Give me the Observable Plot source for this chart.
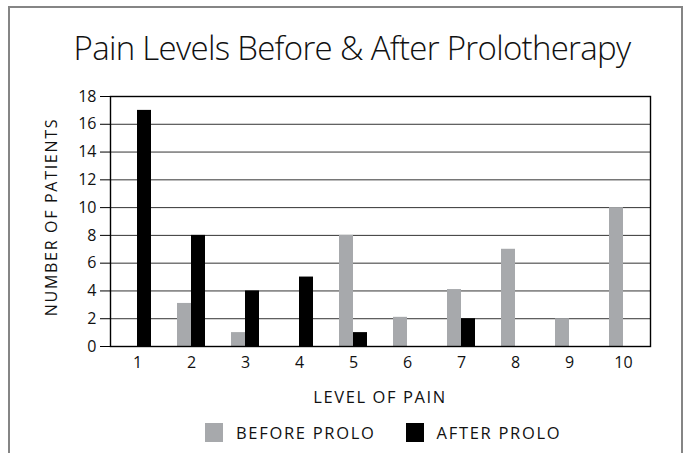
<!DOCTYPE html>
<html>
<head>
<meta charset="utf-8">
<script src="https://cdn.jsdelivr.net/npm/d3@7"></script>
<script src="https://cdn.jsdelivr.net/npm/@observablehq/plot@0.6"></script>
<style>
  body { margin: 0; background: #fff; font-family: "Open Sans", sans-serif; color: #111; }
  #wrap { position: relative; width: 688px; height: 453px; overflow: hidden; background: #fff; }
  #border { position: absolute; left: 8px; top: 6px; width: 671px; height: 470px; border: 2px solid #858585; border-bottom: none; }
  #title { position: absolute; left: 0; width: 704px; top: 25px; text-align: center; font-weight: 300; font-size: 33px; white-space: nowrap; letter-spacing: -0.7px; }
  #chart { position: absolute; left: 0; top: 80px; }
  #ylabel { position: absolute; left: 51px; top: 217px; transform: translate(-50%, -50%) rotate(-90deg); font-size: 16px; letter-spacing: 1.7px; white-space: nowrap; }
  #xlabel { position: absolute; left: 380px; top: 396px; transform: translate(-50%, -50%); font-size: 16.5px; letter-spacing: 1.6px; white-space: nowrap; }
  #legend { position: absolute; left: 205px; top: 421px; display: flex; align-items: center; font-size: 16.5px; letter-spacing: 1.7px; white-space: nowrap; }
  .sw { width: 18px; height: 19px; display: inline-block; margin-right: 13px; }
  .item { display: flex; align-items: center; margin-right: 30px; }
</style>
</head>
<body>
<div id="wrap">
  <div id="border"></div>
  <div id="title">Pain Levels Before &amp; After Prolotherapy</div>
  <div id="chart"></div>
  <div id="ylabel"></div>
  <div id="xlabel"></div>
  <div id="legend"></div>
</div>
<script>
const levels = [1, 2, 3, 4, 5, 6, 7, 8, 9, 10];
const beforeProlo = [0, 3.1, 1, 0, 8, 2.1, 4.1, 7, 2, 10];
const afterProlo = [17, 8, 4, 5, 1, 0, 2, 0, 0, 0];
const seriesNames = ["BEFORE PROLO", "AFTER PROLO"];
const seriesColors = ["#a7a9ac", "#000000"];
const yTicks = [0, 2, 4, 6, 8, 10, 12, 14, 16, 18];
const yLabel = "NUMBER OF PATIENTS";
const xLabel = "LEVEL OF PAIN";

const rows = levels.flatMap((l, i) => [
  {level: l, series: seriesNames[0], value: beforeProlo[i]},
  {level: l, series: seriesNames[1], value: afterProlo[i]}
]);

const chart = Plot.plot({
  width: 688,
  height: 300,
  marginTop: 16,
  marginBottom: 34,
  marginLeft: 109,
  marginRight: 37,
  fx: {domain: levels, paddingInner: 0, paddingOuter: 0, label: null},
  x: {domain: seriesNames, axis: null, paddingInner: 0, paddingOuter: 0.87},
  y: {domain: [0, 18], label: null},
  color: {domain: seriesNames, range: seriesColors},
  style: {fontFamily: "Open Sans, sans-serif", fontSize: "16px", color: "#111", background: "transparent"},
  marks: [
    Plot.ruleY(yTicks.filter(t => t > 0 && t < 18), {stroke: "#333", strokeWidth: 1}),
    Plot.barY(rows, {fx: "level", x: "series", y: "value", fill: "series"}),
    Plot.frame({facet: "super", stroke: "#000", strokeWidth: 1.4}),
    Plot.axisFx({anchor: "bottom", tickSize: 0, tickPadding: 10, label: null, fontSize: 16}),
    Plot.axisY({ticks: yTicks, tickSize: 10, tickPadding: 4, label: null, fontSize: 16, stroke: "#000"})
  ]
});
document.getElementById("chart").append(chart);
document.getElementById("ylabel").textContent = yLabel;
document.getElementById("xlabel").textContent = xLabel;

const legend = document.getElementById("legend");
seriesNames.forEach((name, i) => {
  const item = document.createElement("div");
  item.className = "item";
  const sw = document.createElement("span");
  sw.className = "sw";
  sw.style.background = seriesColors[i];
  const label = document.createElement("span");
  label.textContent = name;
  item.append(sw, label);
  legend.append(item);
});
</script>
</body>
</html>
